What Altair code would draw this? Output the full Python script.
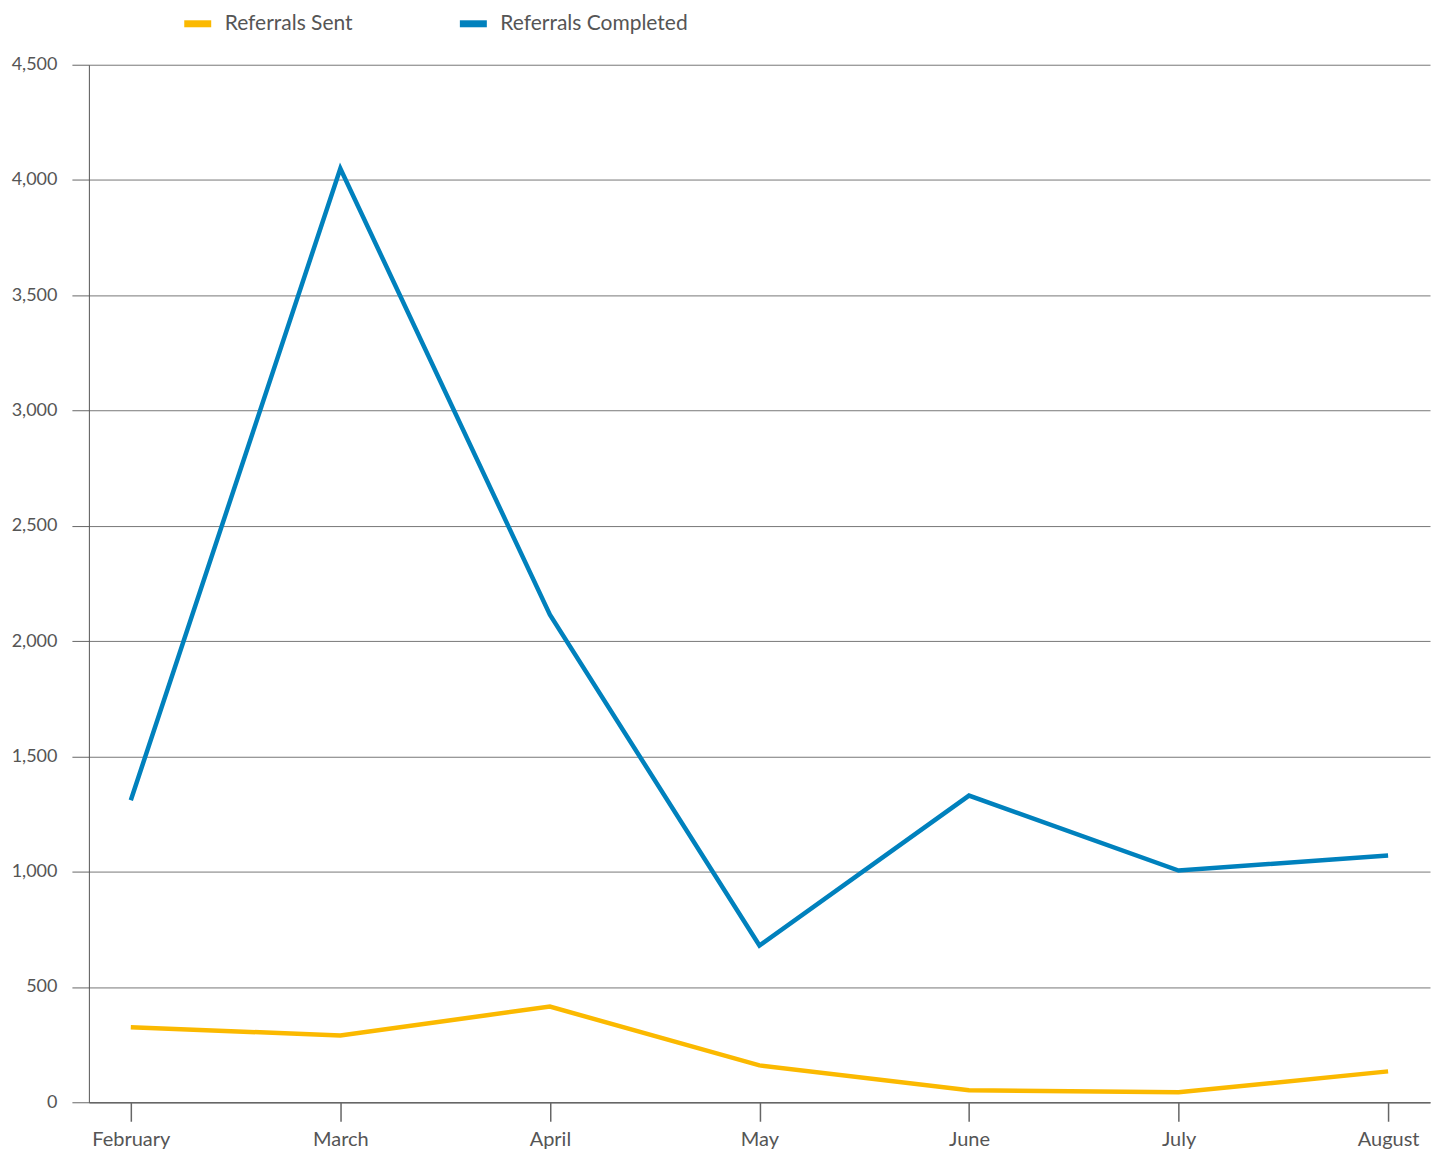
import altair as alt
import pandas as pd

months = ["February", "March", "April", "May", "June", "July", "August"]
sent = [325, 290, 415, 160, 52, 43, 134]
completed = [1310, 4050, 2115, 680, 1330, 1005, 1070]
series_names = ["Referrals Sent", "Referrals Completed"]
colors = ["#FBB900", "#0081BD"]

rows = []
for m, v in zip(months, sent):
    rows.append({"month": m, "value": v, "series": series_names[0]})
for m, v in zip(months, completed):
    rows.append({"month": m, "value": v, "series": series_names[1]})
df = pd.DataFrame(rows)

FONT = "Lato"

chart = alt.Chart(df).mark_line(strokeWidth=4.5).encode(
    x=alt.X("month:N", sort=months, title=None,
            scale=alt.Scale(type="point", padding=0.2),
            axis=alt.Axis(labelAngle=0, tickSize=19, labelPadding=8,
                          labelFontSize=20, labelColor="#555555",
                          tickColor="#666666", tickWidth=1.5,
                          domainColor="#666666", domainWidth=1.5,
                          grid=False, labelFont=FONT)),
    y=alt.Y("value:Q", title=None,
            scale=alt.Scale(domain=[0, 4500], nice=False),
            axis=alt.Axis(values=list(range(0, 4501, 500)), format=",.0f",
                          tickSize=17, labelPadding=15, labelFontSize=18,
                          labelColor="#555555", tickColor="#666666",
                          domainColor="#555555", domainWidth=1,
                          grid=True, gridColor="#777777", gridWidth=1,
                          labelFont=FONT)),
    color=alt.Color("series:N", sort=series_names,
                    scale=alt.Scale(domain=series_names, range=colors),
                    legend=alt.Legend(title=None, orient="none",
                                      direction="horizontal",
                                      legendX=92, legendY=-58,
                                      symbolType="stroke",
                                      symbolSize=729,
                                      symbolStrokeWidth=7,
                                      labelFontSize=21,
                                      labelColor="#555555",
                                      labelFont=FONT,
                                      labelOffset=10,
                                      labelLimit=400,
                                      columnPadding=92)),
).properties(
    width=1343, height=1039,
    autosize=alt.AutoSizeParams(type="none"),
    padding={"left": 81, "top": 56, "right": 4, "bottom": 50},
).configure_view(stroke=None)

chart.save("out.html", embed_options={"renderer": "svg", "actions": False})
